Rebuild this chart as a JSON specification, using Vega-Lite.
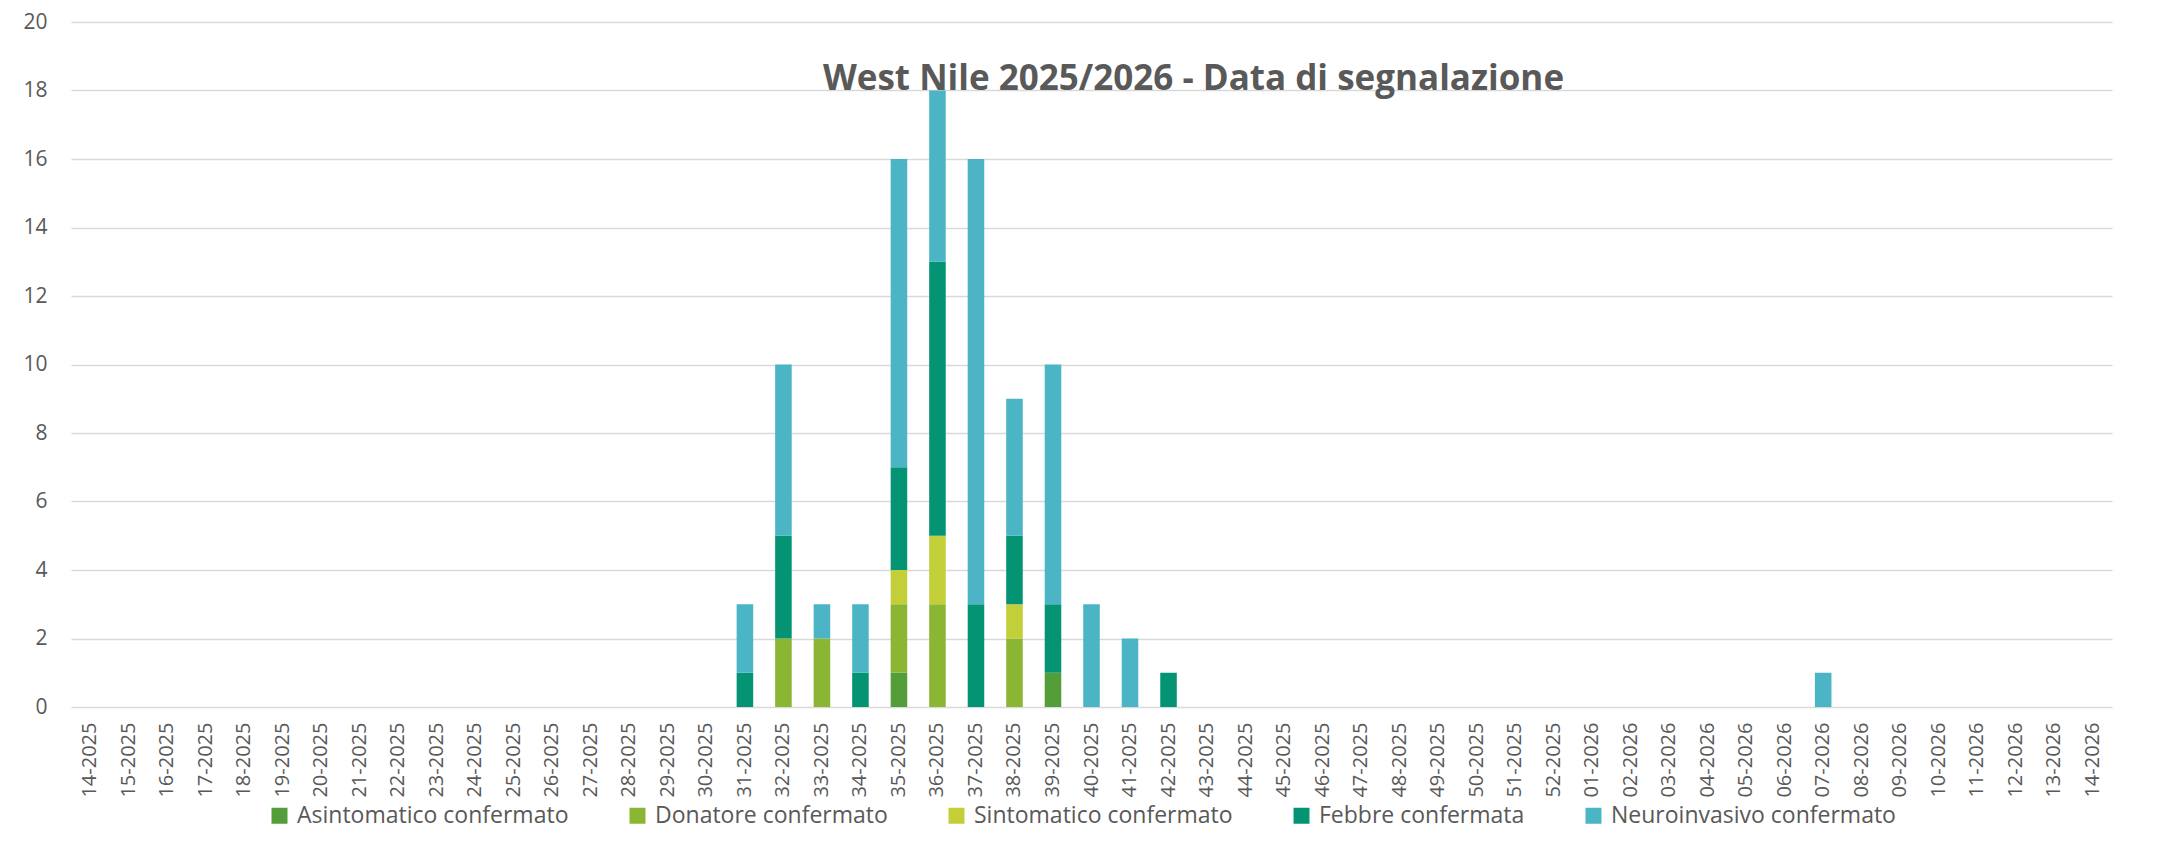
{
  "$schema": "https://vega.github.io/schema/vega-lite/v6.json",
  "width": 2041,
  "height": 685,
  "autosize": {"type": "none"},
  "padding": {"left": 71, "top": 22, "right": 55, "bottom": 140},
  "background": "white",
  "title": {
    "text": "West Nile 2025/2026 - Data di segnalazione",
    "font": "Open Sans",
    "fontSize": 35,
    "fontWeight": "bold",
    "color": "#595959",
    "anchor": "middle",
    "dx": 102,
    "offset": -86
  },
  "datasets": {
    "casi": [
      {"settimana": "31-2025", "tipo": "Febbre confermata", "casi": 1},
      {"settimana": "31-2025", "tipo": "Neuroinvasivo confermato", "casi": 2},
      {"settimana": "32-2025", "tipo": "Donatore confermato", "casi": 2},
      {"settimana": "32-2025", "tipo": "Febbre confermata", "casi": 3},
      {"settimana": "32-2025", "tipo": "Neuroinvasivo confermato", "casi": 5},
      {"settimana": "33-2025", "tipo": "Donatore confermato", "casi": 2},
      {"settimana": "33-2025", "tipo": "Neuroinvasivo confermato", "casi": 1},
      {"settimana": "34-2025", "tipo": "Febbre confermata", "casi": 1},
      {"settimana": "34-2025", "tipo": "Neuroinvasivo confermato", "casi": 2},
      {"settimana": "35-2025", "tipo": "Asintomatico confermato", "casi": 1},
      {"settimana": "35-2025", "tipo": "Donatore confermato", "casi": 2},
      {"settimana": "35-2025", "tipo": "Sintomatico confermato", "casi": 1},
      {"settimana": "35-2025", "tipo": "Febbre confermata", "casi": 3},
      {"settimana": "35-2025", "tipo": "Neuroinvasivo confermato", "casi": 9},
      {"settimana": "36-2025", "tipo": "Donatore confermato", "casi": 3},
      {"settimana": "36-2025", "tipo": "Sintomatico confermato", "casi": 2},
      {"settimana": "36-2025", "tipo": "Febbre confermata", "casi": 8},
      {"settimana": "36-2025", "tipo": "Neuroinvasivo confermato", "casi": 5},
      {"settimana": "37-2025", "tipo": "Febbre confermata", "casi": 3},
      {"settimana": "37-2025", "tipo": "Neuroinvasivo confermato", "casi": 13},
      {"settimana": "38-2025", "tipo": "Donatore confermato", "casi": 2},
      {"settimana": "38-2025", "tipo": "Sintomatico confermato", "casi": 1},
      {"settimana": "38-2025", "tipo": "Febbre confermata", "casi": 2},
      {"settimana": "38-2025", "tipo": "Neuroinvasivo confermato", "casi": 4},
      {"settimana": "39-2025", "tipo": "Asintomatico confermato", "casi": 1},
      {"settimana": "39-2025", "tipo": "Febbre confermata", "casi": 2},
      {"settimana": "39-2025", "tipo": "Neuroinvasivo confermato", "casi": 7},
      {"settimana": "40-2025", "tipo": "Neuroinvasivo confermato", "casi": 3},
      {"settimana": "41-2025", "tipo": "Neuroinvasivo confermato", "casi": 2},
      {"settimana": "42-2025", "tipo": "Febbre confermata", "casi": 1},
      {"settimana": "07-2026", "tipo": "Neuroinvasivo confermato", "casi": 1}
    ],
    "tipi": [
      {"tipo": "Asintomatico confermato", "ordine": 1},
      {"tipo": "Donatore confermato", "ordine": 2},
      {"tipo": "Sintomatico confermato", "ordine": 3},
      {"tipo": "Febbre confermata", "ordine": 4},
      {"tipo": "Neuroinvasivo confermato", "ordine": 5}
    ]
  },
  "data": {"name": "casi"},
  "transform": [
    {"lookup": "tipo", "from": {"data": {"name": "tipi"}, "key": "tipo", "fields": ["ordine"]}}
  ],
  "mark": {"type": "bar"},
  "encoding": {
    "x": {
      "field": "settimana",
      "type": "nominal",
      "scale": {
        "domain": ["14-2025","15-2025","16-2025","17-2025","18-2025","19-2025","20-2025","21-2025","22-2025","23-2025","24-2025","25-2025","26-2025","27-2025","28-2025","29-2025","30-2025","31-2025","32-2025","33-2025","34-2025","35-2025","36-2025","37-2025","38-2025","39-2025","40-2025","41-2025","42-2025","43-2025","44-2025","45-2025","46-2025","47-2025","48-2025","49-2025","50-2025","51-2025","52-2025","01-2026","02-2026","03-2026","04-2026","05-2026","06-2026","07-2026","08-2026","09-2026","10-2026","11-2026","12-2026","13-2026","14-2026"],
        "paddingInner": 0.57,
        "paddingOuter": 0.285
      },
      "axis": {
        "title": null,
        "labelAngle": 270,
        "labelAlign": "right",
        "labelBaseline": "middle",
        "labelPadding": 15,
        "labelFont": "Open Sans",
        "labelFontSize": 20,
        "labelColor": "#595959",
        "ticks": false,
        "domain": false,
        "grid": false,
        "labelOverlap": false
      }
    },
    "y": {
      "field": "casi",
      "type": "quantitative",
      "stack": "zero",
      "scale": {"domain": [0, 20], "nice": false},
      "axis": {
        "title": null,
        "values": [0, 2, 4, 6, 8, 10, 12, 14, 16, 18, 20],
        "grid": true,
        "gridColor": "#d9d9d9",
        "gridWidth": 1.5,
        "ticks": false,
        "domain": false,
        "labelFont": "Open Sans",
        "labelFontSize": 21,
        "labelColor": "#595959",
        "labelPadding": 24
      }
    },
    "order": {"field": "ordine", "type": "quantitative", "sort": "ascending"},
    "color": {
      "field": "tipo",
      "type": "nominal",
      "scale": {
        "domain": ["Asintomatico confermato", "Donatore confermato", "Sintomatico confermato", "Febbre confermata", "Neuroinvasivo confermato"],
        "range": ["#549E39", "#8BB634", "#C2CF38", "#049474", "#4BB5C5"]
      },
      "legend": {
        "title": null,
        "orient": "none",
        "direction": "horizontal",
        "legendX": 197,
        "legendY": 782,
        "columnPadding": 57,
        "symbolType": "square",
        "symbolSize": 256,
        "symbolStrokeWidth": 0,
        "labelFont": "Open Sans",
        "labelFontSize": 23,
        "labelColor": "#595959",
        "labelOffset": 6,
        "labelLimit": 400
      }
    }
  },
  "config": {
    "view": {"stroke": null}
  }
}
